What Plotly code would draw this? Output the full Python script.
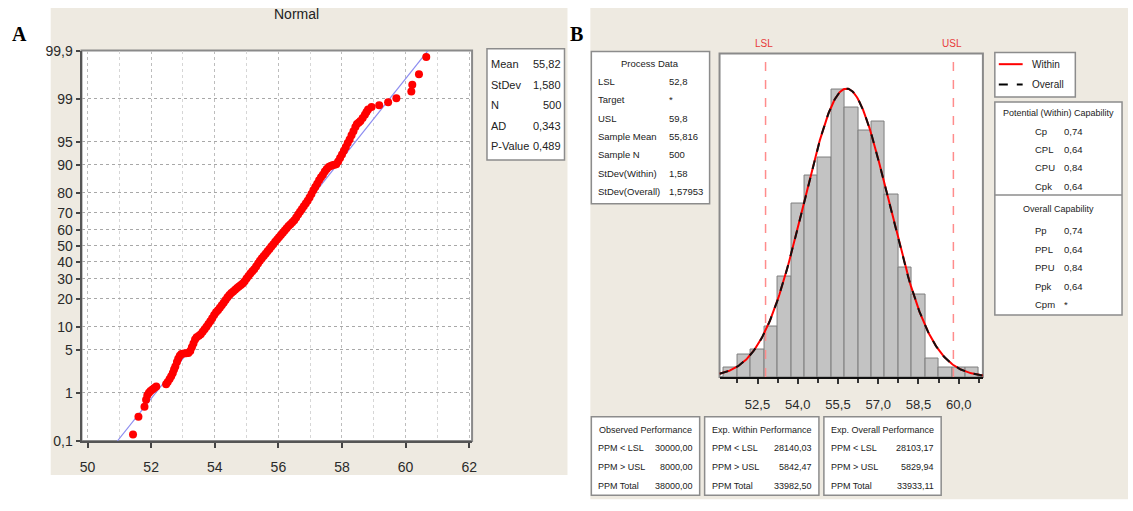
import numpy as np
import plotly.graph_objects as go
from statistics import NormalDist

W, H = 1133, 511

# ---------------- Panel A: normal probability plot ----------------
# ordered observations and their plotting percent
prob_values = [
    51.43, 51.60, 51.79, 51.84, 51.88, 51.93, 51.98, 52.04, 52.10, 52.16,
    52.47, 52.52, 52.58, 52.63, 52.68, 52.72, 52.76, 52.81, 52.85, 52.90,
    52.95, 53.02, 53.10, 53.17, 53.23, 53.28, 53.33, 53.38, 53.43, 53.50,
    53.56, 53.62, 53.68, 53.74, 53.80, 53.86, 53.92, 53.98, 54.04, 54.10,
    54.16, 54.22, 54.28, 54.34, 54.40, 54.46, 54.52, 54.58, 54.64, 54.70,
    54.76, 54.82, 54.88, 54.94, 55.00, 55.06, 55.12, 55.18, 55.24, 55.30,
    55.36, 55.42, 55.48, 55.54, 55.60, 55.66, 55.72, 55.78, 55.84, 55.90,
    55.96, 56.02, 56.08, 56.14, 56.20, 56.26, 56.32, 56.38, 56.44, 56.50,
    56.56, 56.62, 56.68, 56.74, 56.80, 56.86, 56.92, 56.98, 57.04, 57.10,
    57.16, 57.22, 57.28, 57.34, 57.40, 57.46, 57.52, 57.58, 57.64, 57.70,
    57.76, 57.82, 57.88, 57.94, 58.00, 58.06, 58.12, 58.18, 58.24, 58.30,
    58.36, 58.42, 58.47, 58.53, 58.58, 58.65, 58.72, 58.77, 58.82, 58.93,
    59.17, 59.45, 59.71, 60.18, 60.21, 60.42, 60.65,
]
prob_percents = [
    0.14, 0.34, 0.54, 0.74, 0.90, 1.00, 1.08, 1.15, 1.22, 1.30,
    1.42, 1.55, 1.75, 1.95, 2.2, 2.5, 2.8, 3.3, 3.7, 4.1,
    4.35, 4.4, 4.45, 4.5, 4.8, 5.4, 6.1, 6.9, 7.4, 7.7,
    8.1, 8.7, 9.3, 10.0, 10.8, 11.6, 12.6, 13.7, 14.6, 15.4,
    16.3, 17.3, 18.4, 19.6, 20.8, 21.8, 22.7, 23.5, 24.3, 25.2,
    26.0, 26.8, 27.6, 28.8, 30.2, 31.6, 33.0, 34.3, 35.6, 37.2,
    38.9, 40.6, 42.2, 43.6, 45.0, 46.5, 48.0, 49.5, 51.0, 52.5,
    54.0, 55.4, 56.8, 58.2, 59.6, 61.0, 62.3, 63.4, 64.5, 65.7,
    67.3, 69.0, 70.5, 72.0, 73.4, 74.8, 76.2, 77.8, 79.4, 81.0,
    82.4, 83.7, 85.0, 86.1, 87.0, 88.0, 88.8, 89.4, 89.7, 89.9,
    90.0, 90.2, 90.9, 91.8, 92.6, 93.4, 94.1, 94.8, 95.4, 96.0,
    96.5, 97.0, 97.3, 97.45, 97.6, 97.85, 98.1, 98.3, 98.45, 98.6,
    98.7, 98.85, 99.03, 99.27, 99.46, 99.67, 99.86,
]
fit_mean = 55.82
fit_stdev = 1.580
stats_labels = ["Mean", "StDev", "N", "AD", "P-Value"]
stats_values = ["55,82", "1,580", "500", "0,343", "0,489"]
prob_ticks = [0.1, 1, 5, 10, 20, 30, 40, 50, 60, 70, 80, 90, 95, 99, 99.9]
prob_ticktext = ["0,1", "1", "5", "10", "20", "30", "40", "50", "60", "70",
                 "80", "90", "95", "99", "99,9"]
xticks_a = [50, 52, 54, 56, 58, 60, 62]

# ---------------- Panel B: capability histogram ----------------
bin_mids = [51.5, 52.0, 52.5, 53.0, 53.5, 54.0, 54.5, 55.0, 55.5, 56.0,
            56.5, 57.0, 57.5, 58.0, 58.5, 59.0, 59.5, 60.0, 60.5]
bin_counts = [2, 5, 6, 11, 22, 38, 44, 48, 63, 59, 54, 56, 40, 24, 18, 4, 2, 2, 2]
bin_width = 0.5
lsl, usl = 52.8, 59.8
sample_mean = 55.816
stdev_within = 1.58
stdev_overall = 1.57953
n_sample = 500
xticks_b = [52.5, 54.0, 55.5, 57.0, 58.5, 60.0]
xticktext_b = ["52,5", "54,0", "55,5", "57,0", "58,5", "60,0"]

process_labels = ["LSL", "Target", "USL", "Sample Mean", "Sample N",
                  "StDev(Within)", "StDev(Overall)"]
process_values = ["52,8", "*", "59,8", "55,816", "500", "1,58", "1,57953"]
within_cap_labels = ["Cp", "CPL", "CPU", "Cpk"]
within_cap_values = ["0,74", "0,64", "0,84", "0,64"]
overall_cap_labels = ["Pp", "PPL", "PPU", "Ppk", "Cpm"]
overall_cap_values = ["0,74", "0,64", "0,84", "0,64", "*"]
perf_rows = ["PPM < LSL", "PPM > USL", "PPM Total"]
observed_perf = ["30000,00", "8000,00", "38000,00"]
within_perf = ["28140,03", "5842,47", "33982,50"]
overall_perf = ["28103,17", "5829,94", "33933,11"]

# ---------------- helpers ----------------
FONT = "Liberation Sans Narrow, Liberation Sans, sans-serif"
BEIGE = "#EEEAE1"


def px(x):
    return x / W


def py(y):
    return 1 - y / H


shapes = []
annotations = []


def rect(x0, y0, x1, y1, fill, line="#8C8C8C", lw=1.5, layer="below"):
    shapes.append(dict(type="rect", xref="paper", yref="paper",
                       x0=px(x0), x1=px(x1), y0=py(y1), y1=py(y0),
                       fillcolor=fill, line=dict(color=line, width=lw), layer=layer))


def text(x, y, s, size=11, color="#222222", anchor="left", family=FONT, **kw):
    annotations.append(dict(xref="paper", yref="paper", x=px(x), y=py(y), text=s,
                            showarrow=False, xanchor=anchor, yanchor="middle",
                            font=dict(size=size, color=color, family=family), **kw))


# panel backgrounds
rect(49, 0, 569, 482, BEIGE, line=BEIGE, lw=0)
rect(592, 0, 1133, 507, BEIGE, line=BEIGE, lw=0)
# plot areas
rect(80, 44, 473, 447, "white", line="#8A8A8A", lw=2)
rect(722, 47, 987, 381, "white", line="#8A8A8A", lw=2)

# panel labels
text(18, 27, "<b>A</b>", size=20, color="black", anchor="center", family="Liberation Serif, serif")
text(578, 27, "<b>B</b>", size=20, color="black", anchor="center", family="Liberation Serif, serif")

# panel A title
text(296, 6, "Normal", size=14, color="#222222", anchor="center")

# panel A stats box
rect(488, 42, 566, 157, "white", line="#8C8C8C", lw=1.5)
for i, (lab, val) in enumerate(zip(stats_labels, stats_values)):
    yy = 58 + i * 21.2
    text(490, yy, lab, size=11)
    text(564, yy, val, size=11, anchor="right")

# panel B: process data box
rect(593, 45, 712, 202, "white", line="#8C8C8C", lw=1.5)
text(652, 57, "Process Data", size=9.5, anchor="center")
for i, (lab, val) in enumerate(zip(process_labels, process_values)):
    yy = 76 + i * 18.9
    text(598, yy, lab, size=9.5)
    text(669, yy, val, size=9.5)

# legend box
rect(999, 46, 1080, 92, "white", line="#8C8C8C", lw=1.5)
shapes.append(dict(type="line", xref="paper", yref="paper", x0=px(1003), x1=px(1027),
                   y0=py(58), y1=py(58), line=dict(color="#FF0000", width=2)))
shapes.append(dict(type="line", xref="paper", yref="paper", x0=px(1003), x1=px(1027),
                   y0=py(79), y1=py(79), line=dict(color="black", width=2, dash="dash")))
text(1034, 58, "Within", size=10)
text(1034, 79, "Overall", size=10)

# capability box
rect(999, 97, 1127, 317, "white", line="#8C8C8C", lw=1.5)
shapes.append(dict(type="line", xref="paper", yref="paper", x0=px(999), x1=px(1127),
                   y0=py(193), y1=py(193), line=dict(color="#8C8C8C", width=1.5)))
text(1063, 108, "Potential (Within) Capability", size=9, anchor="center")
for i, (lab, val) in enumerate(zip(within_cap_labels, within_cap_values)):
    yy = 127 + i * 19
    text(1037, yy, lab, size=9.5)
    text(1067, yy, val, size=9.5)
text(1063, 207, "Overall Capability", size=9, anchor="center")
for i, (lab, val) in enumerate(zip(overall_cap_labels, overall_cap_values)):
    yy = 230 + i * 19
    text(1037, yy, lab, size=9.5)
    text(1067, yy, val, size=9.5)

# performance boxes
perf_boxes = [
    (593, 702, "Observed Performance", observed_perf),
    (707, 822, "Exp. Within Performance", within_perf),
    (827, 945, "Exp. Overall Performance", overall_perf),
]
for x0, x1, title, vals in perf_boxes:
    rect(x0, 422, x1, 503, "white", line="#8C8C8C", lw=1.5)
    text((x0 + x1) / 2, 436, title, size=9, anchor="center")
    for i, (lab, val) in enumerate(zip(perf_rows, vals)):
        yy = 454 + i * 19.5
        text(x0 + 5, yy, lab, size=9)
        text(x1 - 5, yy, val, size=9, anchor="right")

# spec limit labels
text(767, 37, "LSL", size=10, color="#E83A3A", anchor="center")
text(956, 37, "USL", size=10, color="#E83A3A", anchor="center")

# ---------------- traces ----------------
nd = NormalDist()
fig = go.Figure()

z_pts = [nd.inv_cdf(p / 100) for p in prob_percents]
z_lim = nd.inv_cdf(0.999)
fig.add_trace(go.Scatter(
    x=[fit_mean - z_lim * fit_stdev, fit_mean + z_lim * fit_stdev], y=[-z_lim, z_lim],
    mode="lines", line=dict(color="#8C8CF0", width=1.2), xaxis="x", yaxis="y",
    hoverinfo="skip"))
fig.add_trace(go.Scatter(
    x=prob_values, y=z_pts, mode="markers",
    marker=dict(color="#FF0000", size=8, line=dict(width=0)), xaxis="x", yaxis="y"))

# histogram bars
fig.add_trace(go.Bar(
    x=bin_mids, y=bin_counts, width=bin_width,
    marker=dict(color="#C3C3C3", line=dict(color="#7E7E7E", width=1)),
    xaxis="x2", yaxis="y2"))

# spec limit lines
for v in (lsl, usl):
    fig.add_trace(go.Scatter(x=[v, v], y=[0, 70.8], mode="lines",
                             line=dict(color="#FF8C8C", width=1.5, dash="dash"),
                             xaxis="x2", yaxis="y2", hoverinfo="skip"))

# fitted normal curves (within and overall)
xr = (51.085, 60.9)
xc = np.linspace(xr[0], xr[1], 300)


def curve(sd):
    return n_sample * bin_width * np.exp(-0.5 * ((xc - sample_mean) / sd) ** 2) / (sd * np.sqrt(2 * np.pi))


fig.add_trace(go.Scatter(x=xc, y=curve(stdev_within), mode="lines",
                         line=dict(color="#FF0000", width=2), xaxis="x2", yaxis="y2"))
fig.add_trace(go.Scatter(x=xc, y=curve(stdev_overall), mode="lines",
                         line=dict(color="#111111", width=2, dash="dash"),
                         xaxis="x2", yaxis="y2"))

tickfont = dict(family=FONT, size=14, color="#2A2A2A")
fig.update_layout(
    width=W, height=H, margin=dict(l=0, r=0, t=0, b=0),
    paper_bgcolor="white", plot_bgcolor="rgba(0,0,0,0)",
    showlegend=False, bargap=0,
    shapes=shapes, annotations=annotations,
    xaxis=dict(domain=[px(80), px(473)], range=[49.81, 62.09],
               tickmode="array", tickvals=xticks_a, ticktext=[str(v) for v in xticks_a],
               ticks="outside", ticklen=5, tickcolor="#444", tickwidth=1.5,
               showline=True, linecolor="#555", linewidth=2,
               showgrid=True, gridcolor="#BDBDBD", griddash="dot", gridwidth=1,
               minor=dict(dtick=1, tick0=50, showgrid=True, gridcolor="#D6D6D6",
                          griddash="dot", ticks=""),
               zeroline=False, tickfont=tickfont, anchor="y", ticklabelstandoff=7),
    yaxis=dict(domain=[py(447), py(44)], range=[-z_lim, z_lim],
               tickmode="array", tickvals=[nd.inv_cdf(p / 100) for p in prob_ticks],
               ticktext=prob_ticktext,
               ticks="outside", ticklen=4, tickcolor="#444", tickwidth=1.5,
               showline=True, linecolor="#555", linewidth=2,
               showgrid=True, gridcolor="#A8A8A8", griddash="dot", gridwidth=1,
               zeroline=False, tickfont=tickfont, anchor="x"),
    xaxis2=dict(domain=[px(722), px(987)], range=list(xr),
                tickmode="array", tickvals=xticks_b, ticktext=xticktext_b,
                ticks="outside", ticklen=5, tickcolor="#333", tickwidth=1.5,
                minor=dict(dtick=0.75, tick0=51.75, ticks="outside", ticklen=4,
                           tickcolor="#333", showgrid=False),
                showline=True, linecolor="#111", linewidth=2,
                showgrid=False, zeroline=False,
                tickfont=dict(family=FONT, size=13, color="#2A2A2A"),
                anchor="y2", ticklabelstandoff=9),
    yaxis2=dict(domain=[py(381), py(47)], range=[0, 70.8],
                showticklabels=False, ticks="", showgrid=False, zeroline=False,
                showline=False, anchor="x2"),
)

fig.write_html("out.html")
